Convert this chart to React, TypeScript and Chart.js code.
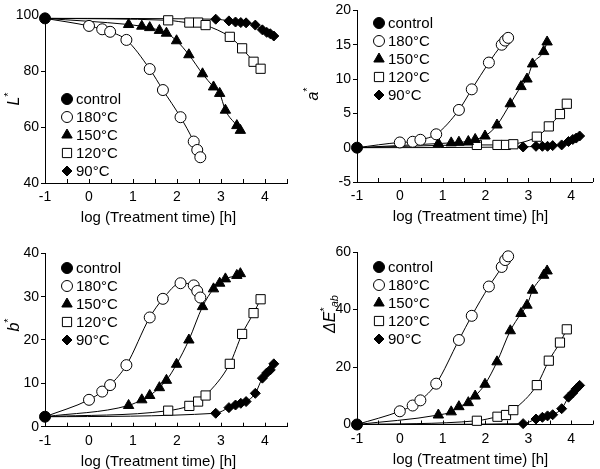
import { useEffect, useRef } from "react";
import { Chart, registerables, type Plugin } from "chart.js";

Chart.register(...registerables);

const FONT = "'Liberation Sans', Arial, Helvetica, sans-serif";

// log (treatment time) of each sample, same for all four panels
const xControl = -1;
const x180 = [0, 0.3, 0.48, 0.85, 1.38, 1.68, 2.08, 2.38, 2.46, 2.53];
const x150 = [0.9, 1.2, 1.38, 1.6, 1.76, 1.99, 2.27, 2.58, 2.83, 2.97, 3.1, 3.36, 3.44];
const x120 = [1.8, 2.28, 2.48, 2.65, 3.2, 3.48, 3.74, 3.9];
const x90 = [2.88, 3.18, 3.33, 3.45, 3.57, 3.78, 3.94, 4.04, 4.12, 4.2];

const legendLabels = ["control", "180°C", "150°C", "120°C", "90°C"];
const xTickLabels = ["-1", "0", "1", "2", "3", "4"];
const xAxisTitle = "log (Treatment time) [h]";

// L*
const lControl = 98.8;
const l180 = [96.1, 94.9, 94.0, 91.1, 80.7, 73.2, 63.5, 54.8, 51.8, 49.2];
const l150 = [96.6, 96.0, 95.5, 94.5, 93.5, 90.8, 85.8, 79.0, 74.3, 72.0, 66.0, 60.5, 58.8];
const l120 = [98.1, 97.3, 97.3, 96.4, 92.2, 88.1, 83.3, 80.8];
const l90 = [98.5, 97.9, 97.5, 97.3, 97.2, 96.4, 94.7, 93.8, 93.3, 92.5];

// a*
const aControl = 0;
const a180 = [0.76, 0.86, 1.15, 1.95, 5.5, 8.5, 12.4, 15.0, 15.6, 16.0];
const a150 = [0.6, 0.7, 0.8, 0.9, 1.2, 1.7, 3.3, 6.4, 8.9, 10.0, 12.2, 14.0, 15.4];
const a120 = [0.4, 0.4, 0.4, 0.5, 1.6, 3.1, 4.9, 6.4];
const a90 = [0.1, 0.2, 0.2, 0.2, 0.3, 0.4, 0.9, 1.2, 1.4, 1.7];

// b*
const bControl = 2.3;
const b180 = [6.2, 8.1, 9.6, 14.2, 25.2, 29.5, 33.1, 32.6, 31.3, 29.8];
const b150 = [4.9, 6.2, 7.2, 9.0, 10.7, 14.4, 20.0, 27.7, 31.8, 33.1, 34.1, 34.9, 35.3];
const b120 = [3.7, 4.8, 5.8, 7.2, 14.5, 21.4, 26.2, 29.4];
const b90 = [3.1, 4.4, 5.0, 5.4, 5.8, 7.7, 11.2, 12.4, 13.1, 14.5];

// ΔE*ab
const eControl = 0;
const e180 = [4.6, 6.6, 8.4, 14.2, 29.4, 37.8, 48.0, 54.8, 57.2, 58.5];
const e150 = [3.3, 4.4, 6.2, 7.6, 9.9, 14.0, 21.8, 32.6, 38.6, 41.5, 46.7, 51.9, 53.4];
const e120 = [1.3, 2.7, 3.3, 5.0, 13.7, 22.2, 28.5, 33.1];
const e90 = [0.3, 1.9, 2.5, 3.0, 3.4, 5.5, 9.5, 11.0, 12.4, 13.6];

type Marker = { pointStyle: "circle" | "triangle" | "rect" | "rectRot"; radius: number; fill: string };

// control, 180, 150, 120, 90
const markers: Marker[] = [
  { pointStyle: "circle", radius: 5.5, fill: "#000" },
  { pointStyle: "circle", radius: 5.5, fill: "#fff" },
  { pointStyle: "triangle", radius: 6, fill: "#000" },
  { pointStyle: "rect", radius: 6.5, fill: "#fff" },
  { pointStyle: "rectRot", radius: 5, fill: "#000" },
];

type TitlePart = { text: string; kind: "main" | "sup" | "sub" };

interface PanelConfig {
  left: number; top: number; width: number; height: number;
  plotLeft: number; plotRight: number; plotTop: number; plotBottom: number;
  yMin: number; yMax: number; yStep: number;
  control: number; series: number[][];
  legendTop: number;
  title: TitlePart[]; titleX: number; titleY: number;
}

const seriesX = [x180, x150, x120, x90];

const panels: PanelConfig[] = [
  {
    left: 0, top: 0, width: 300, height: 235,
    plotLeft: 45, plotRight: 287, plotTop: 15, plotBottom: 183,
    yMin: 40, yMax: 100, yStep: 20,
    control: lControl, series: [l180, l150, l120, l90],
    legendTop: 99,
    title: [{ text: "L", kind: "main" }, { text: "*", kind: "sup" }], titleX: 13, titleY: 99,
  },
  {
    left: 300, top: 0, width: 300, height: 235,
    plotLeft: 57, plotRight: 300, plotTop: 7, plotBottom: 182,
    yMin: -5, yMax: 20, yStep: 5,
    control: aControl, series: [a180, a150, a120, a90],
    legendTop: 23,
    title: [{ text: "a", kind: "main" }, { text: "*", kind: "sup" }], titleX: 12, titleY: 94,
  },
  {
    left: 0, top: 235, width: 300, height: 234,
    plotLeft: 45, plotRight: 287, plotTop: 18.3, plotBottom: 191.7,
    yMin: 0, yMax: 40, yStep: 10,
    control: bControl, series: [b180, b150, b120, b90],
    legendTop: 33,
    title: [{ text: "b", kind: "main" }, { text: "*", kind: "sup" }], titleX: 13, titleY: 90,
  },
  {
    left: 300, top: 235, width: 300, height: 234,
    plotLeft: 57, plotRight: 300, plotTop: 17, plotBottom: 189.5,
    yMin: 0, yMax: 60, yStep: 20,
    control: eControl, series: [e180, e150, e120, e90],
    legendTop: 32,
    title: [{ text: "ΔE", kind: "main" }, { text: "*", kind: "sup" }, { text: "ab", kind: "sub" }],
    titleX: 29, titleY: 79,
  },
];

function drawMarker(ctx: CanvasRenderingContext2D, m: Marker, x: number, y: number) {
  const r = m.radius;
  ctx.save();
  ctx.beginPath();
  if (m.pointStyle === "circle") {
    ctx.arc(x, y, r, 0, Math.PI * 2);
  } else if (m.pointStyle === "triangle") {
    ctx.moveTo(x, y - r);
    ctx.lineTo(x + r * Math.sin((2 * Math.PI) / 3), y + r * 0.5);
    ctx.lineTo(x - r * Math.sin((2 * Math.PI) / 3), y + r * 0.5);
  } else if (m.pointStyle === "rect") {
    const s = r * Math.SQRT1_2;
    ctx.rect(x - s, y - s, 2 * s, 2 * s);
  } else {
    ctx.moveTo(x, y - r);
    ctx.lineTo(x + r, y);
    ctx.lineTo(x, y + r);
    ctx.lineTo(x - r, y);
  }
  ctx.closePath();
  ctx.fillStyle = m.fill;
  ctx.fill();
  ctx.lineWidth = 1;
  ctx.strokeStyle = "#000";
  ctx.stroke();
  ctx.restore();
}

function partFont(p: TitlePart) {
  return p.kind === "main" ? `italic 16px ${FONT}` : p.kind === "sup" ? `11px ${FONT}` : `italic 11px ${FONT}`;
}

function makeDecorPlugin(cfg: PanelConfig): Plugin<"line"> {
  return {
    id: "decor",
    afterDraw(chart) {
      const ctx = chart.ctx;
      const area = chart.chartArea;
      const xs = chart.scales.x;

      // inward ticks on the x axis every 0.5
      ctx.save();
      ctx.strokeStyle = "#000";
      ctx.lineWidth = 1;
      for (let v = -0.5; v <= 4.5001; v += 0.5) {
        const px = Math.round(xs.getPixelForValue(v)) + 0.5;
        ctx.beginPath();
        ctx.moveTo(px, area.bottom);
        ctx.lineTo(px, area.bottom - 4);
        ctx.stroke();
      }
      ctx.restore();

      // x axis title
      ctx.save();
      ctx.fillStyle = "#000";
      ctx.font = `15px ${FONT}`;
      ctx.textAlign = "center";
      ctx.textBaseline = "middle";
      ctx.fillText(xAxisTitle, area.left + 113.5, area.bottom + 35);
      ctx.restore();

      // y axis title with super/subscripts
      ctx.save();
      ctx.fillStyle = "#000";
      ctx.translate(cfg.titleX, cfg.titleY);
      ctx.rotate(-Math.PI / 2);
      ctx.textBaseline = "alphabetic";
      const widths = cfg.title.map((p) => {
        ctx.font = partFont(p);
        return ctx.measureText(p.text).width;
      });
      let tx = -widths.reduce((a, b) => a + b, 0) / 2;
      cfg.title.forEach((p, i) => {
        ctx.font = partFont(p);
        const dy = p.kind === "main" ? 5.5 : p.kind === "sup" ? -1 : 9;
        ctx.fillText(p.text, tx, dy);
        tx += widths[i];
      });
      ctx.restore();

      // legend
      ctx.save();
      ctx.fillStyle = "#000";
      ctx.font = `15px ${FONT}`;
      ctx.textBaseline = "middle";
      legendLabels.forEach((label, i) => {
        const y = cfg.legendTop + i * 18;
        drawMarker(ctx, markers[i], area.left + 22, y);
        ctx.fillStyle = "#000";
        ctx.fillText(label, area.left + 31, y + 1);
      });
      ctx.restore();
    },
  };
}

function ColorPanel({ cfg }: { cfg: PanelConfig }) {
  const canvasRef = useRef<HTMLCanvasElement | null>(null);

  useEffect(() => {
    if (!canvasRef.current) return;

    const lineSets = cfg.series.map((ys, i) => ({
      data: [{ x: xControl, y: cfg.control }, ...seriesX[i].map((x, j) => ({ x, y: ys[j] }))],
      borderColor: "#000",
      borderWidth: 1,
      pointRadius: 0,
      cubicInterpolationMode: "monotone" as const,
      fill: false,
      clip: false as const,
      order: 1,
    }));

    const pointSets = cfg.series.map((ys, i) => ({
      data: seriesX[i].map((x, j) => ({ x, y: ys[j] })),
      showLine: false,
      pointStyle: markers[i + 1].pointStyle,
      pointRadius: markers[i + 1].radius,
      pointBackgroundColor: markers[i + 1].fill,
      pointBorderColor: "#000",
      pointBorderWidth: 1,
      clip: false as const,
      order: 0,
    }));

    const controlSet = {
      data: [{ x: xControl, y: cfg.control }],
      showLine: false,
      pointStyle: markers[0].pointStyle,
      pointRadius: markers[0].radius,
      pointBackgroundColor: markers[0].fill,
      pointBorderColor: "#000",
      pointBorderWidth: 1,
      clip: false as const,
      order: 0,
    };

    const chart = new Chart(canvasRef.current, {
      type: "line",
      data: { datasets: [controlSet, ...pointSets, ...lineSets] as any },
      options: {
        animation: false,
        responsive: true,
        maintainAspectRatio: false,
        events: [],
        layout: {
          padding: { left: 0, top: cfg.plotTop, right: cfg.width - cfg.plotRight, bottom: 0 },
        },
        plugins: { legend: { display: false }, tooltip: { enabled: false } },
        scales: {
          x: {
            type: "linear",
            min: -1,
            max: 4.5,
            border: { display: true, color: "#000", width: 1 },
            grid: { display: true, drawOnChartArea: false, drawTicks: false },
            ticks: {
              stepSize: 0.5,
              autoSkip: false,
              maxRotation: 0,
              padding: 6,
              color: "#000",
              font: { family: FONT, size: 14 },
              callback: (v) => {
                const n = Number(v);
                return Number.isInteger(n) ? xTickLabels[n + 1] ?? "" : "";
              },
            },
            afterFit: (s) => {
              s.height = cfg.height - cfg.plotBottom;
            },
          },
          y: {
            type: "linear",
            min: cfg.yMin,
            max: cfg.yMax,
            border: { display: true, color: "#000", width: 1 },
            grid: { display: true, drawOnChartArea: false, drawTicks: true, tickLength: 4, tickColor: "#000" },
            ticks: {
              stepSize: cfg.yStep,
              padding: 2,
              color: "#000",
              font: { family: FONT, size: 14 },
            },
            afterFit: (s) => {
              s.width = cfg.plotLeft;
            },
          },
        },
      },
      plugins: [makeDecorPlugin(cfg)],
    });

    return () => {
      chart.destroy();
    };
  }, [cfg]);

  return (
    <div style={{ position: "absolute", left: cfg.left, top: cfg.top, width: cfg.width, height: cfg.height }}>
      <canvas ref={canvasRef} />
    </div>
  );
}

export default function App() {
  return (
    <div style={{ position: "absolute", left: 0, top: 0, width: 600, height: 469, background: "#fff", overflow: "hidden" }}>
      {panels.map((p, i) => (
        <ColorPanel key={i} cfg={p} />
      ))}
    </div>
  );
}
